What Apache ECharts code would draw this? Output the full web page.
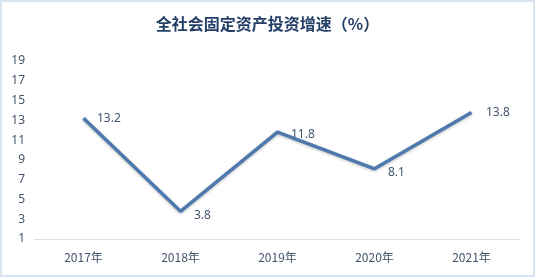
<!DOCTYPE html>
<html>
<head>
<meta charset="utf-8">
<script src="https://cdn.jsdelivr.net/npm/echarts@6/dist/echarts.min.js"></script>
<style>
    html, body { margin: 0; padding: 0; background: #fff; }
    #chart { width: 535px; height: 277px; box-sizing: border-box; border: 2px solid #dae4f0; }
</style>
</head>
<body>
<div id="chart"></div>
<script>
const years = ['2017年', '2018年', '2019年', '2020年', '2021年'];
const growth = [13.2, 3.8, 11.8, 8.1, 13.8];
const labelPos = [[8, 0], [8, 4], [8, 2], [8, 4], [9, 0]];

const chart = echarts.init(document.getElementById('chart'));
chart.setOption({
    title: {
        text: '全社会固定资产投资增速（%）',
        left: 'center',
        top: 9,
        textStyle: {
            color: '#243f66',
            fontSize: 16,
            fontWeight: 'bold',
            fontFamily: 'Noto Sans CJK SC'
        }
    },
    grid: { left: 33, right: 13, top: 59, bottom: 36 },
    xAxis: {
        type: 'category',
        data: years,
        boundaryGap: true,
        axisLine: { lineStyle: { color: '#d5dfea', width: 1 } },
        axisTick: { show: false },
        axisLabel: { color: '#44546a', fontSize: 12, margin: 12, fontFamily: 'Noto Sans CJK SC' }
    },
    yAxis: {
        type: 'value',
        min: 1,
        max: 19,
        interval: 2,
        axisLine: { show: false },
        axisTick: { show: false },
        splitLine: { show: false },
        axisLabel: { color: '#44546a', fontSize: 12, margin: 10, fontFamily: 'Noto Sans' }
    },
    series: [{
        type: 'line',
        data: growth.map((v, i) => ({
            value: v,
            label: { offset: labelPos[i] }
        })),
        symbol: 'circle',
        symbolSize: 1,
        showSymbol: true,
        itemStyle: { color: 'rgba(0,0,0,0)' },
        lineStyle: {
            color: '#4e79ad',
            width: 3.5,
            shadowColor: 'rgba(0,0,0,0.25)',
            shadowBlur: 3,
            shadowOffsetY: 1
        },
        label: {
            show: true,
            position: 'right',
            color: '#44546a',
            fontSize: 12,
            fontFamily: 'Noto Sans'
        },
        animation: false
    }]
});
</script>
</body>
</html>
